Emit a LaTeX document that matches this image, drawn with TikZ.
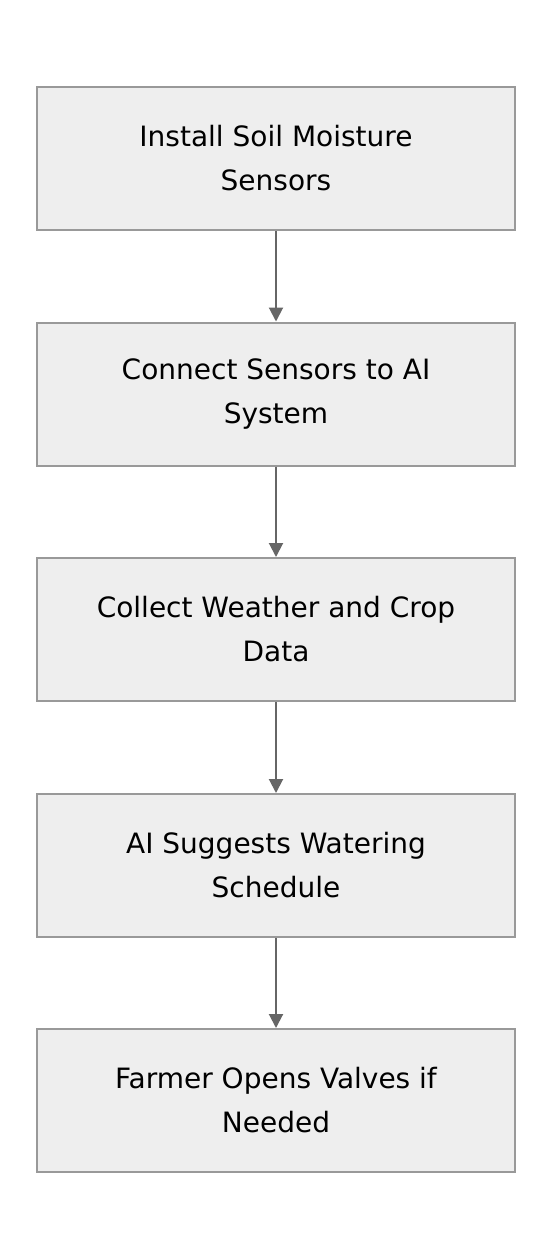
\documentclass[tikz,border=0pt]{standalone}
\usepackage{fontspec}
\setmainfont{DejaVu Sans}
\definecolor{boxfill}{HTML}{EEEEEE}
\definecolor{boxline}{HTML}{999999}
\definecolor{arrowline}{HTML}{666666}
\tikzset{
  stepbox/.style={draw=boxline, fill=boxfill, line width=1pt, minimum width=239pt, minimum height=71.5pt, align=center, font=\fontsize{14pt}{22pt}\selectfont},
  flow/.style={draw=arrowline, line width=1pt, -{Triangle[length=7pt,width=7pt]}}
}
\usetikzlibrary{arrows.meta}
\begin{document}
\begin{tikzpicture}[x=0.5pt,y=-0.5pt]
\path[use as bounding box, fill=white] (0,0) rectangle (552,1260);
\node[stepbox] (1) at (276,158.5) {Install Soil Moisture\\Sensors};
\node[stepbox] (2) at (276,394) {Connect Sensors to AI\\System};
\node[stepbox] (3) at (276,629.5) {Collect Weather and Crop\\Data};
\node[stepbox] (4) at (276,865.5) {AI Suggests Watering\\Schedule};
\node[stepbox] (5) at (276,1100.5) {Farmer Opens Valves if\\Needed};

\path[flow] (1) -- (2);
\path[flow] (2) -- (3);
\path[flow] (3) -- (4);
\path[flow] (4) -- (5);
\end{tikzpicture}
\end{document}
